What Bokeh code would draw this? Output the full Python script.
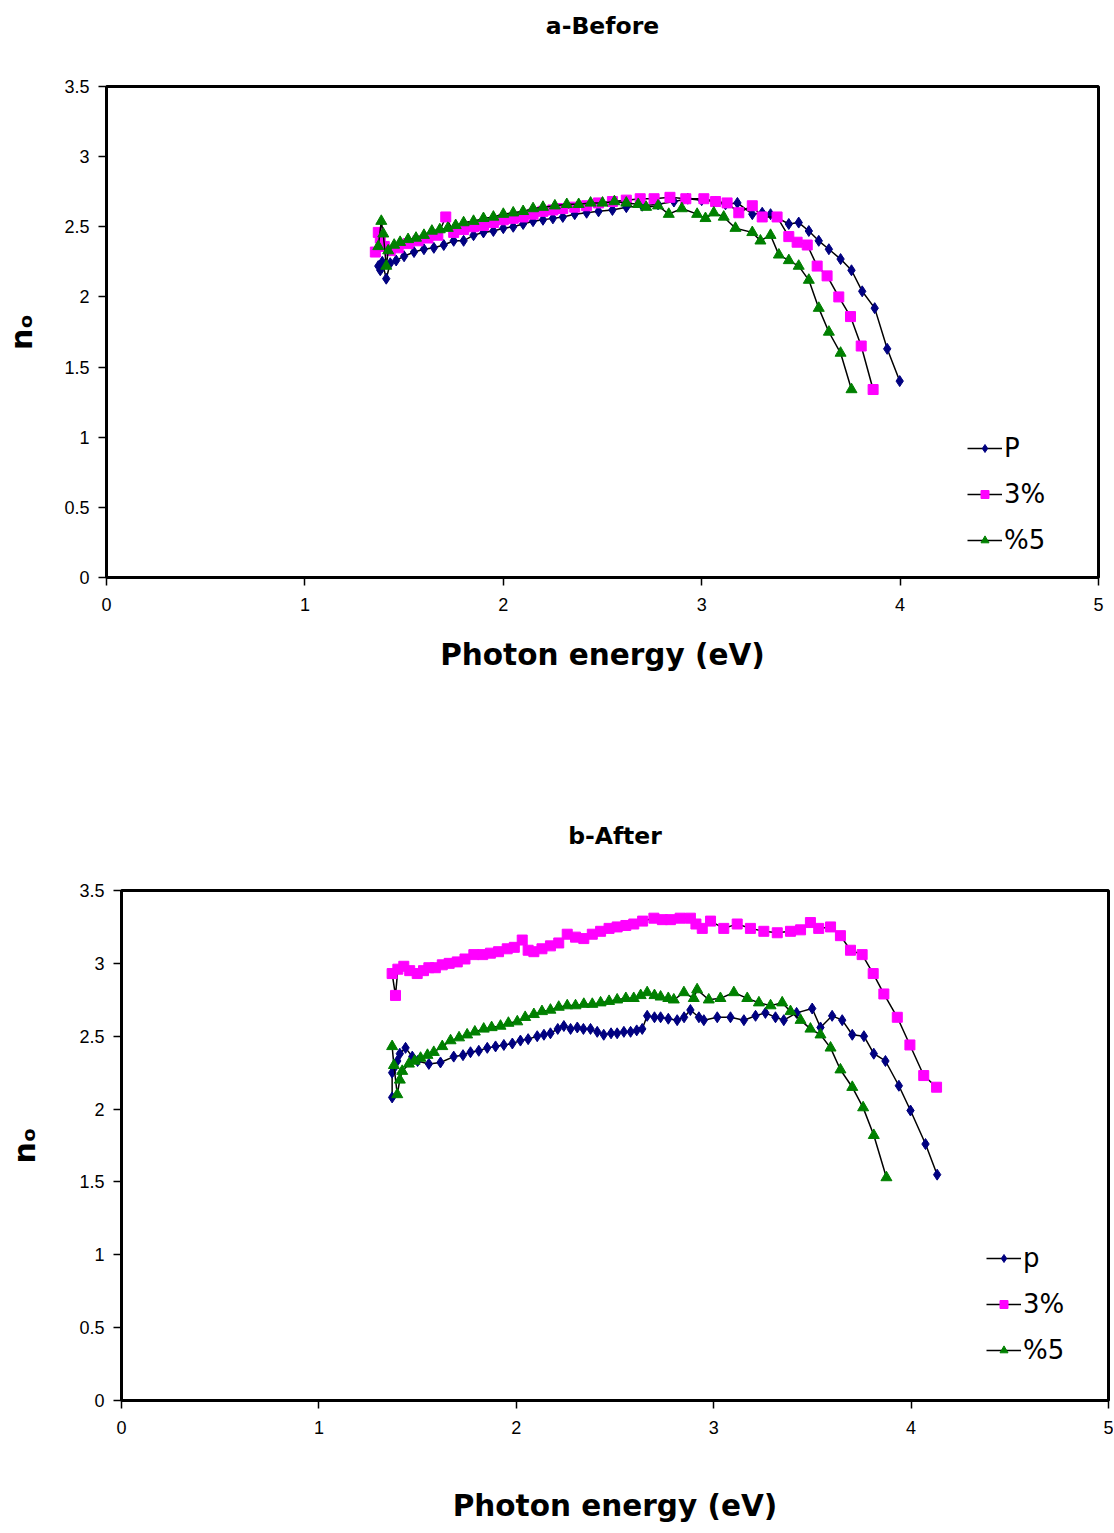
from bokeh.plotting import figure
from bokeh.models import Range1d, FixedTicker, NumeralTickFormatter, Legend, LegendItem, Title
from bokeh.embed import file_html
from bokeh.resources import INLINE

# ---------------- a-Before ----------------
a_p_x = [1.37, 1.38, 1.39, 1.41, 1.43, 1.46, 1.50, 1.55, 1.60, 1.65, 1.70, 1.75, 1.80, 1.85, 1.90,
         1.95, 2.00, 2.05, 2.10, 2.15, 2.20, 2.25, 2.30, 2.36, 2.42, 2.48, 2.55, 2.62, 2.70, 2.78,
         2.86, 2.93, 3.00, 3.07, 3.12, 3.18, 3.255, 3.305, 3.347, 3.439, 3.489, 3.540, 3.590, 3.641,
         3.700, 3.755, 3.809, 3.872, 3.935, 3.998]
a_p_y = [2.22, 2.19, 2.25, 2.13, 2.24, 2.26, 2.29, 2.32, 2.34, 2.35, 2.37, 2.40, 2.40, 2.44, 2.46,
         2.47, 2.49, 2.50, 2.52, 2.54, 2.55, 2.56, 2.57, 2.59, 2.60, 2.61, 2.62, 2.64, 2.65, 2.66,
         2.68, 2.70, 2.69, 2.68, 2.66, 2.67, 2.59, 2.60, 2.59, 2.52, 2.53, 2.47, 2.40, 2.34,
         2.27, 2.19, 2.04, 1.92, 1.63, 1.40]

a_3_x = [1.355, 1.37, 1.38, 1.40, 1.43, 1.47, 1.52, 1.57, 1.62, 1.67, 1.71, 1.75, 1.80, 1.85, 1.90,
         1.95, 2.00, 2.05, 2.10, 2.15, 2.20, 2.25, 2.30, 2.36, 2.42, 2.48, 2.55, 2.62, 2.69, 2.76,
         2.84, 2.92, 3.011, 3.070, 3.128, 3.187, 3.255, 3.305, 3.380, 3.439, 3.481, 3.532, 3.582,
         3.632, 3.691, 3.750, 3.804, 3.864]
a_3_y = [2.32, 2.46, 2.42, 2.36, 2.33, 2.35, 2.38, 2.40, 2.42, 2.44, 2.57, 2.46, 2.48, 2.50, 2.51,
         2.53, 2.55, 2.56, 2.57, 2.59, 2.61, 2.62, 2.63, 2.64, 2.65, 2.67, 2.68, 2.69, 2.70, 2.70,
         2.71, 2.70, 2.70, 2.68, 2.67, 2.60, 2.65, 2.57, 2.57, 2.43, 2.39, 2.37, 2.22,
         2.15, 2.00, 1.86, 1.65, 1.34]

a_5_x = [1.37, 1.385, 1.395, 1.41, 1.42, 1.45, 1.48, 1.52, 1.56, 1.60, 1.64, 1.68, 1.72, 1.76, 1.80,
         1.85, 1.90, 1.95, 2.00, 2.05, 2.10, 2.15, 2.20, 2.26, 2.32, 2.38, 2.44, 2.50, 2.56, 2.62,
         2.68, 2.72, 2.78, 2.834, 2.90, 2.977, 3.019, 3.061, 3.111, 3.170, 3.255, 3.296, 3.347,
         3.389, 3.439, 3.489, 3.540, 3.590, 3.641, 3.700, 3.755]
a_5_y = [2.36, 2.54, 2.45, 2.22, 2.33, 2.37, 2.39, 2.41, 2.42, 2.44, 2.47, 2.48, 2.49, 2.51, 2.53,
         2.54, 2.56, 2.57, 2.59, 2.60, 2.61, 2.63, 2.64, 2.65, 2.66, 2.66, 2.67, 2.67, 2.68, 2.67,
         2.66, 2.64, 2.65, 2.59, 2.63, 2.59, 2.56, 2.60, 2.57, 2.49, 2.46, 2.40, 2.44,
         2.30, 2.26, 2.22, 2.12, 1.92, 1.75, 1.60, 1.34]

# ---------------- b-After ----------------
b_p_x = [1.371, 1.371, 1.38, 1.397, 1.41, 1.439, 1.473, 1.50, 1.557, 1.616, 1.683, 1.73, 1.768, 1.81,
         1.853, 1.895, 1.937, 1.98, 2.021, 2.06, 2.106, 2.14, 2.173, 2.21, 2.241, 2.275, 2.309, 2.34,
         2.376, 2.41, 2.443, 2.48, 2.511, 2.545, 2.579, 2.61, 2.638, 2.663, 2.70, 2.731, 2.77, 2.815,
         2.850, 2.882, 2.925, 2.950, 3.018, 3.085, 3.153, 3.212, 3.262, 3.313, 3.355, 3.42, 3.499,
         3.541, 3.600, 3.651, 3.702, 3.761, 3.811, 3.870, 3.938, 3.997, 4.073, 4.132]
b_p_y = [2.08, 2.25, 2.28, 2.33, 2.38, 2.42, 2.36, 2.33, 2.31, 2.32, 2.36, 2.37, 2.39, 2.40,
         2.42, 2.43, 2.44, 2.45, 2.47, 2.48, 2.50, 2.51, 2.52, 2.55, 2.57, 2.55, 2.56, 2.55,
         2.55, 2.53, 2.51, 2.52, 2.52, 2.53, 2.53, 2.54, 2.55, 2.64, 2.63, 2.63, 2.62, 2.61,
         2.63, 2.68, 2.63, 2.61, 2.63, 2.63, 2.61, 2.64, 2.66, 2.63, 2.61, 2.66, 2.69,
         2.56, 2.64, 2.61, 2.51, 2.50, 2.38, 2.33, 2.16, 1.99, 1.76, 1.55]

b_3_x = [1.371, 1.388, 1.40, 1.43, 1.46, 1.498, 1.53, 1.557, 1.59, 1.625, 1.66, 1.701, 1.74, 1.785,
         1.83, 1.869, 1.91, 1.954, 1.99, 2.030, 2.06, 2.089, 2.13, 2.173, 2.215, 2.258, 2.30, 2.342,
         2.385, 2.427, 2.47, 2.511, 2.555, 2.595, 2.64, 2.697, 2.74, 2.781, 2.83, 2.882, 2.91, 2.942,
         2.984, 3.051, 3.119, 3.186, 3.254, 3.322, 3.389, 3.440, 3.490, 3.532, 3.592, 3.642, 3.693,
         3.752, 3.808, 3.862, 3.930, 3.994, 4.064, 4.129]
b_3_y = [2.93, 2.78, 2.96, 2.98, 2.95, 2.93, 2.95, 2.97, 2.97, 2.99, 3.00, 3.01, 3.03, 3.06,
         3.06, 3.07, 3.08, 3.10, 3.11, 3.16, 3.09, 3.08, 3.10, 3.12, 3.14, 3.20, 3.18, 3.17,
         3.20, 3.22, 3.24, 3.25, 3.26, 3.27, 3.29, 3.31, 3.30, 3.30, 3.31, 3.31, 3.27, 3.24,
         3.29, 3.24, 3.27, 3.24, 3.22, 3.21, 3.22, 3.23, 3.28, 3.24, 3.25, 3.19, 3.09,
         3.06, 2.93, 2.79, 2.63, 2.44, 2.23, 2.15]

b_5_x = [1.371, 1.38, 1.397, 1.41, 1.422, 1.456, 1.485, 1.515, 1.55, 1.582, 1.625, 1.667, 1.71,
         1.751, 1.79, 1.835, 1.875, 1.920, 1.96, 2.005, 2.045, 2.089, 2.13, 2.173, 2.215, 2.258,
         2.30, 2.342, 2.385, 2.427, 2.47, 2.511, 2.555, 2.595, 2.63, 2.663, 2.70, 2.731, 2.77, 2.798,
         2.849, 2.899, 2.916, 2.975, 3.034, 3.102, 3.170, 3.229, 3.288, 3.347, 3.389, 3.440, 3.490,
         3.541, 3.592, 3.642, 3.702, 3.757, 3.811, 3.875]
b_5_y = [2.43, 2.30, 2.10, 2.20, 2.26, 2.31, 2.33, 2.35, 2.37, 2.39, 2.43, 2.47, 2.49,
         2.51, 2.53, 2.55, 2.56, 2.57, 2.59, 2.60, 2.63, 2.65, 2.67, 2.68, 2.70, 2.71,
         2.71, 2.72, 2.72, 2.73, 2.74, 2.75, 2.76, 2.76, 2.78, 2.80, 2.78, 2.77, 2.76, 2.75,
         2.80, 2.76, 2.82, 2.75, 2.76, 2.80, 2.76, 2.73, 2.71, 2.73, 2.67, 2.61, 2.55,
         2.51, 2.42, 2.27, 2.15, 2.01, 1.82, 1.53]

x_ticks = [0, 1, 2, 3, 4, 5]
y_ticks = [0, 0.5, 1, 1.5, 2, 2.5, 3, 3.5]

NAVY = "#000080"
MAGENTA = "#FF00FF"
GREEN = "#008000"
TICK_FONT = "Liberation Sans"
BOLD_FONT = "DejaVu Sans"


def make_fig(title, width, height, bl, bt, bb, br, series, labels, legend_loc,
             x_standoff, y_standoff, title_standoff, title_line_height):
    p = figure(width=width, height=height, x_range=Range1d(0, 5), y_range=Range1d(0, 3.5),
               output_backend="svg", toolbar_location=None, title=None,
               min_border_left=bl, min_border_top=bt, min_border_bottom=bb, min_border_right=br)
    p.add_layout(Title(text=title, align="center", vertical_align="top", text_font=BOLD_FONT,
                       text_font_size="23.5px", text_font_style="bold", text_color="black",
                       text_line_height=title_line_height, standoff=title_standoff), "above")
    p.xgrid.visible = False
    p.ygrid.visible = False
    p.outline_line_color = "black"
    p.outline_line_width = 3
    p.background_fill_color = "white"
    p.border_fill_color = "white"

    for ax in (p.xaxis[0], p.yaxis[0]):
        ax.axis_line_width = 3
        ax.axis_line_color = "black"
        ax.major_tick_line_color = "black"
        ax.major_tick_line_width = 1.5
        ax.major_tick_out = 8
        ax.major_tick_in = 0
        ax.minor_tick_line_color = None
        ax.major_label_text_font = TICK_FONT
        ax.major_label_text_font_size = "18px"
        ax.major_label_text_color = "black"
        ax.axis_label_text_font = BOLD_FONT
        ax.axis_label_text_font_style = "bold"
        ax.axis_label_text_color = "black"
        ax.formatter = NumeralTickFormatter(format="0.[0]")
    p.xaxis[0].ticker = FixedTicker(ticks=x_ticks)
    p.yaxis[0].ticker = FixedTicker(ticks=y_ticks)
    p.xaxis[0].axis_label = "Photon energy (eV)"
    p.xaxis[0].axis_label_text_font_size = "29.5px"
    p.xaxis[0].axis_label_standoff = x_standoff
    p.xaxis[0].major_label_standoff = 12
    p.yaxis[0].axis_label = "n\u2092"
    p.yaxis[0].axis_label_text_font_size = "30px"
    p.yaxis[0].axis_label_standoff = y_standoff
    p.yaxis[0].major_label_standoff = 9

    items = []
    markers = [("diamond", NAVY, 11), ("square", MAGENTA, 10), ("triangle", GREEN, 11)]
    for (xs, ys), lab, (mk, col, sz) in zip(series, labels, markers):
        ln = p.line(xs, ys, line_color="black", line_width=1.5)
        sc = p.scatter(xs, ys, marker=mk, size=sz, fill_color=col, line_color=col)
        items.append(LegendItem(label=lab, renderers=[ln, sc]))
    leg = Legend(items=items, location=legend_loc, border_line_color=None,
                 background_fill_alpha=0, padding=0, margin=0, spacing=16,
                 glyph_width=35, glyph_height=20, label_height=20, label_standoff=2,
                 label_text_font="DejaVu Sans", label_text_font_size="26px",
                 label_text_color="black")
    p.add_layout(leg, "center")
    return p


# the top title gets one blank line below it, so its box reaches up near the top of the page
p1 = make_fig("a-Before\n ", 1110, 782, 106, 86, 205, 12,
              [(a_p_x, a_p_y), (a_3_x, a_3_y), (a_5_x, a_5_y)], ["P", "3%", "%5"],
              (861, 22), 24, 22, 18, 1.3)
p2 = make_fig("b-After", 1113, 746, 121, 107, 128, 5,
              [(b_p_x, b_p_y), (b_3_x, b_3_y), (b_5_x, b_5_y)], ["p", "3%", "%5"],
              (865, 35), 52, 34, 78, 1.2)

open("out.html", "w").write(file_html([p1, p2], INLINE))
